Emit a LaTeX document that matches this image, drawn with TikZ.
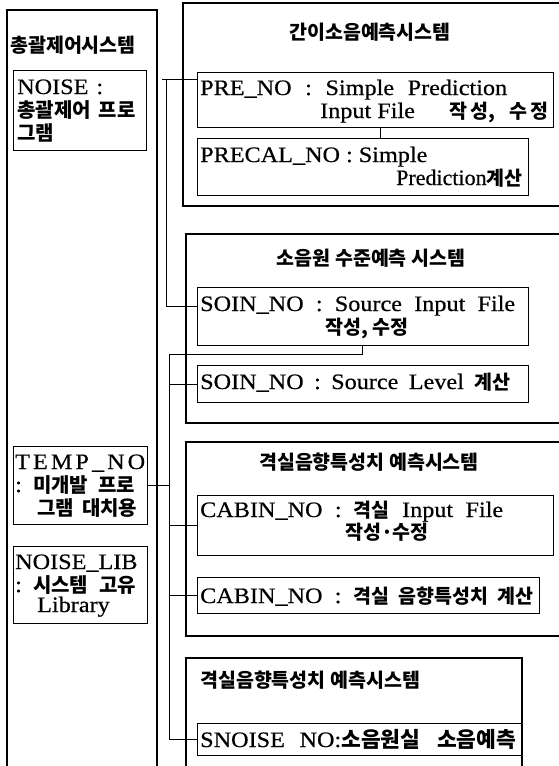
\documentclass[tikz,border=0pt]{standalone}
\usepackage{fontspec}
\setmainfont{Liberation Serif}[FakeStretch=1.1, FakeBold=0.5]
\newfontfamily\plainser{Liberation Serif}[FakeBold=0.5]
\newfontfamily\krfont{Noto Sans CJK KR}
\newcommand\kor[1]{{\krfont\bfseries\fontsize{19.5pt}{22pt}\selectfont #1}}
\newcommand\korW[1]{{\krfont\bfseries\fontsize{21.5pt}{24pt}\selectfont #1}}
\newcommand\korL[1]{{\krfont\bfseries\fontsize{20pt}{23pt}\selectfont #1}}
\newcommand\fitw[2]{\makebox[#1pt][s]{#2}}
\tikzset{
  ibox/.style={draw, line width=1pt, inner sep=0pt, anchor=north west},
  conn/.style={line width=1pt},
  obox/.style={line width=1.2pt},
  lat/.style={inner sep=0pt, anchor=base west, font=\fontsize{22pt}{26pt}\selectfont},
  ttl/.style={inner sep=0pt, anchor=base, font=\krfont\bfseries\fontsize{19.5pt}{22pt}\selectfont},
}
\begin{document}
\begin{tikzpicture}[x=1pt,y=-1pt]
\useasboundingbox (0,0) rectangle (559,766);
\fill[white] (0,0) rectangle (559,766);

% outer group boxes
\draw[obox] (7,766) -- (7,10) -- (157,10) -- (157,766);
\draw[obox] (559,3) -- (183,3) -- (183,206) -- (559,206);
\draw[obox] (559,234) -- (186,234) -- (186,423) -- (559,423);
\draw[obox] (559,442) -- (186,442) -- (186,636) -- (559,636);
\draw[obox] (186,766) -- (186,658) -- (522,658) -- (522,766);

% left column
\node[ttl, anchor=base west] (ttl0) at (10,52) {총괄제어시스템};
\node[ibox, minimum width=133pt, minimum height=80pt] (noise) at (13,70) {};
\node[lat] (noiseA) at (17,94) {\fitw{86}{NOISE :}};
\node[lat] (noiseB) at (17,117) {\korL{총괄제어\hspace{8pt}프로}};
\node[lat] (noiseC) at (17,140) {\korL{그램}};

\node[ibox, minimum width=134pt, minimum height=78pt] (temp) at (13,446) {};
\node[lat] (tempA) at (15,469) {\fitw{130}{T\hfill E\hfill M\hfill P\hfill\_\hfill N\hfill O}};
\node[lat] (tempB1) at (15,492) {:};
\node[lat] (tempB2) at (33,492) {\korL{미개발\hspace{10pt}프로}};
\node[lat] (tempC) at (37,515) {\korL{그램\hspace{8pt}대치용}};

\node[ibox, minimum width=134pt, minimum height=77pt] (lib) at (13,546) {};
\node[lat] (libA) at (15,569) {NOISE\_LIB};
\node[lat] (libB1) at (15,592) {:};
\node[lat] (libB2) at (33,592) {\korL{시스템\hspace{11pt}고유}};
\node[lat] (libC) at (37,612) {Library};

% group 1
\node[ttl] (ttl1) at (370,39) {간이소음예측시스템};
\node[ibox, minimum width=356pt, minimum height=55pt] (pre) at (197,72) {};
\node[lat] (preA) at (200,95) {\fitw{307}{PRE\_NO : Simple Prediction}};
\node[lat] (preB) at (320,118) {\makebox[228pt][s]{Input~File\hspace{0pt plus 1fill}\kor{작\hspace{3pt}성,\hspace{14pt}수\hspace{3pt}정}}};
\node[ibox, minimum width=331pt, minimum height=57pt] (precal) at (197,138) {};
\node[lat] (precalA) at (200,162) {PRECAL\_NO : Simple};
\node[lat] (precalB) at (396,185) {\plainser Prediction\kor{계산}};

% group 2
\node[ttl] (ttl2) at (371,265) {소음원 수준예측 시스템};
\node[ibox, minimum width=331pt, minimum height=58pt] (soin1) at (197,287) {};
\node[lat] (soin1A) at (200,311) {\fitw{315}{SOIN\_NO : Source Input File}};
\node[lat] (soin1B) at (325,334) {\kor{작성, 수정}};
\node[ibox, minimum width=331pt, minimum height=37pt] (soin2) at (197,365) {};
\node[lat] (soin2A) at (200,389) {\fitw{310}{SOIN\_NO : Source Level \kor{계산}}};

% group 3
\node[ttl] (ttl3) at (369,469) {격실음향특성치 예측시스템};
\node[ibox, minimum width=356pt, minimum height=60pt] (cabin1) at (197,495) {};
\node[lat] (cabin1A) at (200,517) {\fitw{303}{CABIN\_NO : \kor{격실} Input File}};
\node[lat] (cabin1B) at (345,539) {\kor{작성·수정}};
\node[ibox, minimum width=342pt, minimum height=36pt] (cabin2) at (197,577) {};
\node[lat] (cabin2A) at (200,603) {\fitw{333}{CABIN\_NO : \kor{격실 음향특성치 계산}}};

% group 4
\node[ttl, anchor=base west] (ttl4) at (200,687) {격실음향특성치 예측시스템};
\node[ibox, minimum width=325pt, minimum height=32pt] (snoise) at (197,723) {};
\node[lat] (snoiseA) at (200,747) {\fitw{316}{SNOISE\hspace{6pt plus 1fil}NO:\korW{소음원실\hspace{8pt plus 1fil}소음예측}}};

% connectors
\coordinate (c1) at (162,79);
\draw[conn] (c1) -- (c1 -| pre.west);
\coordinate (c2) at (166,79);
\coordinate (c3) at (166,306);
\draw[conn] (c2) -- (c3) -- (c3 -| soin1.west);
\coordinate (px) at (380,0);
\draw[conn] (px |- pre.south) -- (px |- precal.north);
\coordinate (sx) at (362,0);
\coordinate (tb) at (169,354);
\draw[conn] (sx |- soin1.south) |- (tb) -- (tb |- snoise.west) -- (snoise.west);
\draw[conn] (tb |- soin2.west) -- (soin2.west);
\draw[conn] (temp.east) -- (temp.east -| tb);
\draw[conn] (tb |- cabin1.west) -- (cabin1.west);
\draw[conn] (tb |- cabin2.west) -- (cabin2.west);
\end{tikzpicture}
\end{document}
